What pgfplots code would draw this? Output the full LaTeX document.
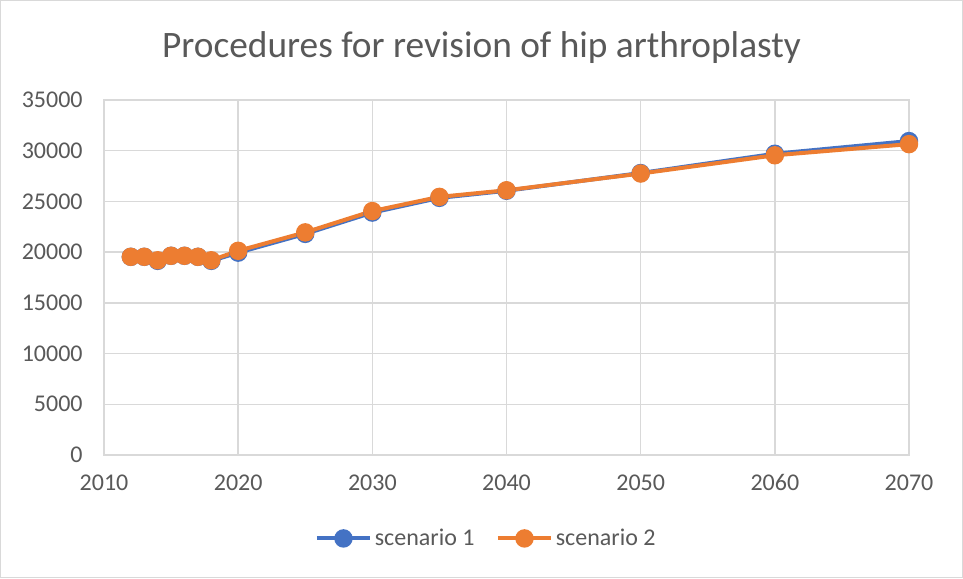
\documentclass[border=0pt]{standalone}
\usepackage{fontspec}
\setmainfont{Carlito}
\usepackage{pgfplots}
\pgfplotsset{compat=1.18}
\definecolor{sblue}{HTML}{4472C4}
\definecolor{sorange}{HTML}{ED7D31}
\definecolor{tgray}{HTML}{595959}
\definecolor{ggray}{HTML}{D9D9D9}
\begin{document}
\begin{tikzpicture}
\draw[draw=ggray, line width=0.75pt, fill=white] (0.375pt,0.375pt) rectangle (721.875pt,433.125pt);
\node[text=tgray, font=\fontsize{28}{32}\selectfont] at (361.125pt,397.5pt) {Procedures for revision of hip arthroplasty};
\begin{axis}[at={(78pt,92.25pt)}, anchor=south west, scale only axis,
  width=603.75pt, height=266.25pt,
  xmin=2010, xmax=2070, ymin=0, ymax=35000,
  xtick={2010,2020,2030,2040,2050,2060,2070},
  xticklabels={2010,2020,2030,2040,2050,2060,2070},
  ytick={0,5000,10000,15000,20000,25000,30000,35000},
  yticklabels={0,5000,10000,15000,20000,25000,30000,35000},
  scaled ticks=false,
  grid=major, major grid style={ggray, line width=1.1pt},
  axis line style={ggray, line width=1.1pt},
  major tick length=0pt,
  tick label style={text=tgray, font=\fontsize{18}{21}\selectfont},
  xticklabel style={anchor=north, text height=12pt, text depth=0pt, yshift=-11pt},
  yticklabel style={anchor=east, xshift=-12.5pt},
  legend style={at={(0.5,-0.235)}, xshift=-15pt, anchor=center, draw=none, fill=none,
    legend columns=2, font=\fontsize{18}{21}\selectfont, text=tgray,
    /tikz/every even column/.append style={column sep=14pt}},
  legend image code/.code={\draw[mark repeat=2,mark phase=2] plot coordinates {(0pt,0pt) (20pt,0pt) (40pt,0pt)};},
  every axis plot/.append style={line width=3pt, mark=*, mark size=5.4pt, mark options={solid}},
]
\addplot[color=sblue] coordinates {
(2012,19540) (2013,19540) (2014,19140) (2015,19640) (2016,19640) (2017,19540) (2018,19140)
(2020,19950) (2025,21800) (2030,23900) (2035,25350) (2040,26050) (2050,27800) (2060,29700) (2070,30950)};
\addlegendentry{scenario 1}
\addplot[color=sorange] coordinates {
(2012,19540) (2013,19540) (2014,19200) (2015,19640) (2016,19640) (2017,19540) (2018,19200)
(2020,20130) (2025,21950) (2030,24050) (2035,25450) (2040,26100) (2050,27750) (2060,29550) (2070,30650)};
\addlegendentry{scenario 2}
\end{axis}
\end{tikzpicture}
\end{document}
